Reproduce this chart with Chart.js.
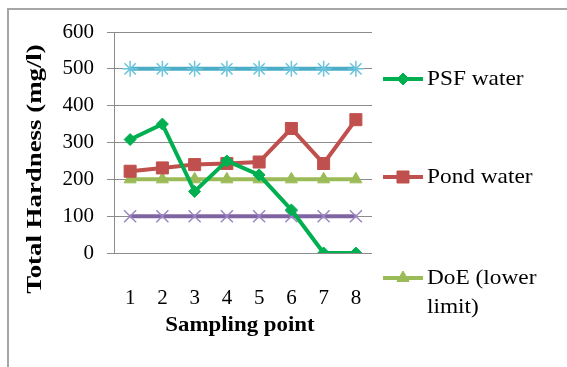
<!DOCTYPE html>
<html>
<head>
<meta charset="utf-8">
<script src="https://cdn.jsdelivr.net/npm/chart.js@4/dist/chart.umd.min.js"></script>
<style>
  html, body { margin: 0; padding: 0; background: #fff; }
  #wrap { position: relative; width: 567px; height: 367px; overflow: hidden; }
  #frame { position: absolute; left: 7px; top: 8px; width: 620px; height: 420px;
           border-left: 2px solid #a6a6a6; border-top: 2px solid #a6a6a6; box-sizing: border-box; }
  canvas { position: absolute; left: 0; top: 0; }
</style>
</head>
<body>
<div id="wrap">
  <div id="frame"></div>
  <canvas id="c" width="567" height="367"></canvas>
</div>
<script>
// Sampling points along the x axis
const samplingPoints = ['1', '2', '3', '4', '5', '6', '7', '8'];

// Total hardness (mg/l) at each sampling point
const psfWater  = [308, 350, 167, 250, 212, 117, 0, 0];
const pondWater = [222, 231, 240, 243, 247, 338, 243, 362];

// Standard limits (DoE)
const doeLowerLimit = [200, 200, 200, 200, 200, 200, 200, 200];
const doeUpperLimit = [500, 500, 500, 500, 500, 500, 500, 500];
const hardThreshold = [100, 100, 100, 100, 100, 100, 100, 100];

// Legend entries shown beside the plot
const legendNames = ['PSF water', 'Pond water', ['DoE (lower', 'limit)']];

const yTitle = 'Total Hardness (mg/l)';
const xTitle = 'Sampling point';

const SERIF = '"Liberation Serif", "Times New Roman", serif';

function series(label, data, color, style, radius, pointBorder, markerColor) {
  return {
    label, data,
    borderColor: color,
    backgroundColor: color,
    borderWidth: 4,
    pointStyle: style,
    pointRadius: radius,
    pointHoverRadius: radius,
    pointBorderWidth: pointBorder,
    pointBorderColor: markerColor || color,
    pointBackgroundColor: markerColor || color,
    tension: 0
  };
}

// Legend and axis titles drawn on the canvas
const sideLegend = {
  id: 'sideLegend',
  afterDraw(chart) {
    const ctx = chart.ctx;
    const rows = [79, 177, 278];
    ctx.save();
    rows.forEach((y, i) => {
      const ds = chart.data.datasets[i];
      ctx.strokeStyle = ds.borderColor;
      ctx.lineWidth = 4;
      ctx.beginPath();
      ctx.moveTo(383, y);
      ctx.lineTo(423, y);
      ctx.stroke();
      ctx.fillStyle = ds.pointBackgroundColor;
      ctx.strokeStyle = ds.pointBorderColor;
      ctx.lineWidth = ds.pointBorderWidth;
      Chart.helpers.drawPoint(ctx, {
        pointStyle: ds.pointStyle, radius: ds.pointRadius, rotation: 0, borderWidth: ds.pointBorderWidth
      }, 403, y);
      ctx.fillStyle = '#000';
      ctx.font = '22px ' + SERIF;
      ctx.textBaseline = 'middle';
      ctx.textAlign = 'left';
      const name = legendNames[i];
      const lines = Array.isArray(name) ? name : [name];
      lines.forEach((t, k) => {
        ctx.save();
        ctx.translate(427, y + k * 29);
        ctx.scale(1.06, 1);
        ctx.fillText(t, 0, 0);
        ctx.restore();
      });
    });

    ctx.fillStyle = '#000';
    ctx.font = 'bold 22px ' + SERIF;
    ctx.textAlign = 'center';
    ctx.textBaseline = 'middle';
    ctx.save();
    ctx.translate(240, 325);
    ctx.scale(1.04, 1);
    ctx.fillText(xTitle, 0, 0);
    ctx.restore();

    ctx.translate(35, 169);
    ctx.rotate(-Math.PI / 2);
    ctx.scale(1.22, 1);
    ctx.fillText(yTitle, 0, 0);
    ctx.restore();
  }
};

new Chart(document.getElementById('c'), {
  type: 'line',
  data: {
    labels: samplingPoints,
    datasets: [
      series('PSF water', psfWater, '#00b050', 'rectRot', 6, 1),
      series('Pond water', pondWater, '#c0504d', 'rect', 8.5, 1),
      series('DoE (lower limit)', doeLowerLimit, '#9bbb59', 'triangle', 7, 1),
      series('DoE (upper limit)', doeUpperLimit, '#4bacc6', 'star', 8, 1.5, '#6cc4dc'),
      series('Hardness threshold', hardThreshold, '#8064a2', 'crossRot', 8.5, 1.5, '#9c86c2')
    ]
  },
  options: {
    responsive: false,
    animation: false,
    events: [],
    layout: { padding: { top: 32, right: 195, left: 0, bottom: 0 } },
    plugins: { legend: { display: false }, tooltip: { enabled: false } },
    scales: {
      x: {
        offset: true,
        grid: { display: false, drawTicks: false },
        border: { display: false },
        ticks: { color: '#000', padding: 33, font: { family: SERIF, size: 21 } },
        afterFit(scale) { scale.height = 114; }
      },
      y: {
        min: 0, max: 600,
        ticks: { stepSize: 100, color: '#000', padding: 13, font: { family: SERIF, size: 21 } },
        grid: { color: '#8c8c8c', lineWidth: 1, tickLength: 7 },
        border: { color: '#8c8c8c', width: 1 },
        afterFit(scale) { scale.width = 114; }
      }
    }
  },
  plugins: [sideLegend]
});
</script>
</body>
</html>
